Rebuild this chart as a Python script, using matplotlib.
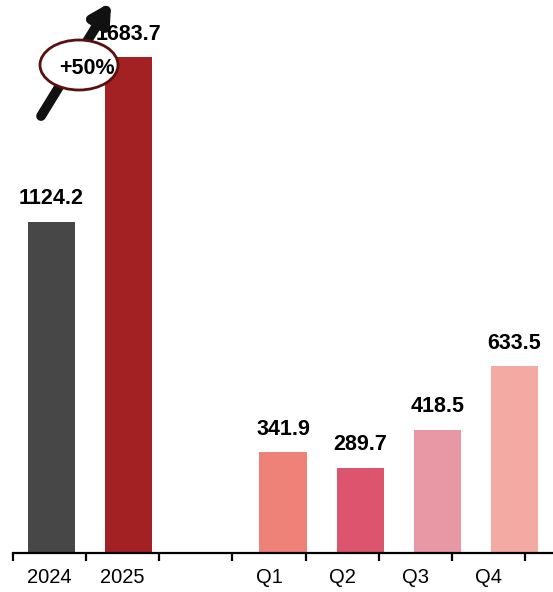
import matplotlib
matplotlib.use("Agg")
import matplotlib.pyplot as plt
from matplotlib.patches import Ellipse
import numpy as np

plt.rcParams['font.family'] = ['Liberation Sans', 'DejaVu Sans']

categories = ['2024', '2025', '', 'Q1', 'Q2', 'Q3', 'Q4']
values = [1124.2, 1683.7, None, 341.9, 289.7, 418.5, 633.5]
labels = ['1124.2', '1683.7', '', '341.9', '289.7', '418.5', '633.5']
colors = ['#474747', '#A32023', None, '#EE8279', '#DC546D', '#E898A5', '#F2AAA3']
growth_text = '+50%'

W, H = 553, 592
fig = plt.figure(figsize=(W / 100, H / 100), dpi=100)
ax = fig.add_axes([13 / W, (H - 553) / H, (553 - 13) / W, 553 / H])

for i, (v, c, lab) in enumerate(zip(values, colors, labels)):
    if v is None:
        continue
    ax.bar(i, v, width=0.61, color=c, zorder=2)
    ax.annotate(lab, (i, v), xytext=(0, 9), textcoords='offset points',
                ha='center', va='bottom', fontsize=15.5, fontweight='bold', zorder=3)

ax.set_xlim(-0.5, 6.5)
ax.set_ylim(0, 1878)

for s in ['top', 'right', 'left']:
    ax.spines[s].set_visible(False)
ax.spines['bottom'].set_linewidth(1.6)
ax.set_yticks([])

# category axis ticks (slightly narrower spacing than bar slots)
step = 73 / 77
ticks = [k * step - 0.5 for k in range(8)]
centers = [(k + 0.5) * step - 0.5 for k in range(7)]
ax.set_xticks(ticks)
ax.set_xticklabels([])
ax.set_xticks(centers, minor=True)
ax.set_xticklabels(categories, minor=True, fontsize=14.5)
ax.tick_params(axis='x', which='major', length=6, width=1.6, direction='out')
ax.tick_params(axis='x', which='minor', length=0, pad=11)

# growth arrow
def px2data(px, py):
    return ((px - 13) / 77 - 0.5, (553 - py) / 0.2945)

tail = px2data(41, 116)
tip = px2data(111, 2)
ax.annotate('', xy=tip, xytext=tail, xycoords='data',
            arrowprops=dict(arrowstyle='-|>,head_length=1.1,head_width=0.6',
                            lw=7, color='#111111', shrinkA=0, shrinkB=0),
            zorder=5, annotation_clip=False)

ell = Ellipse((79 / 100, (H - 65) / 100), 0.78, 0.50, transform=fig.dpi_scale_trans,
              facecolor='white', edgecolor='#5A1010', lw=2, zorder=6)
fig.add_artist(ell)
fig.text(87 / W, (H - 68) / H, growth_text, ha='center', va='center',
         fontsize=15.5, fontweight='bold', zorder=7)

fig.savefig('out.png', dpi=100)
